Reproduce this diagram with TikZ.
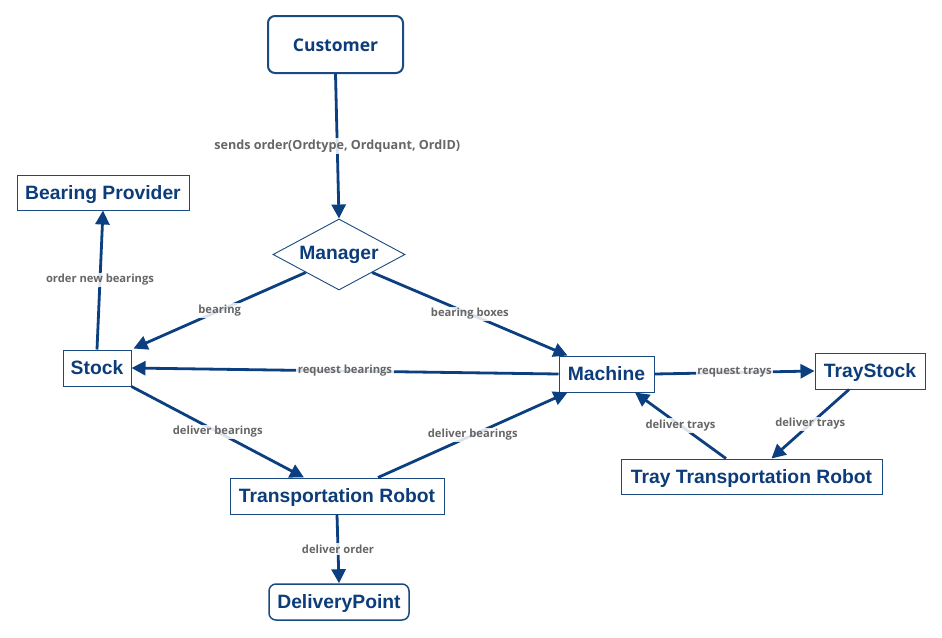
\documentclass[tikz,border=0pt]{standalone}
\usepackage{fontspec}
\setmainfont{Liberation Sans}
\newfontfamily\lblfont{Open Sans}
\usetikzlibrary{shapes.geometric,arrows.meta}
\definecolor{nodeblue}{HTML}{0D3C7A}
\definecolor{edgeblue}{HTML}{0B3F80}
\definecolor{bordblue}{HTML}{1A4A80}
\definecolor{lblgray}{HTML}{666666}
\begin{document}
\begin{tikzpicture}[x=1pt,y=-1pt,
  box/.style={draw=bordblue,line width=1pt,fill=white,inner sep=0pt,text=nodeblue,font=\fontsize{19.3}{22}\selectfont\bfseries,anchor=center,text height=14.5pt,text depth=1pt},
  rbox/.style={box,rounded corners=7pt},
  flow/.style={draw=edgeblue,line width=2.8pt,-{Triangle[length=14pt,width=14pt]}},
  lbl/.style={fill=white,fill opacity=0.85,text opacity=1,text=lblgray,font=\lblfont\fontsize{11.2}{13}\selectfont\bfseries,inner sep=1.5pt}
]
\useasboundingbox[fill=white] (0,0) rectangle (942,637);

\node[rbox,line width=2pt,minimum width=135pt,minimum height=57pt,font=\lblfont\fontsize{17.5}{20}\selectfont\bfseries,text height=14pt,text depth=0pt] (cust) at (335.5,44.5) {Customer};
\node[draw=bordblue,line width=0.9pt,fill=white,diamond,aspect=1.85,inner sep=0pt,minimum width=132pt,minimum height=71pt] (man) at (339,254.5) {};
\node[text=nodeblue,font=\fontsize{19.3}{22}\selectfont\bfseries,text height=14.5pt,text depth=1pt,inner sep=0pt] at (339,253) {Manager};
\node[box,minimum width=172pt,minimum height=35pt] (bp) at (103,192.5) {Bearing Provider};
\node[box,minimum width=68pt,minimum height=36pt] (stock) at (97,368) {Stock};
\node[box,minimum width=95pt,minimum height=36pt] (mach) at (606.5,374) {Machine};
\node[box,minimum width=110pt,minimum height=36pt] (ts) at (870,371) {TrayStock};
\node[box,minimum width=261pt,minimum height=35pt] (ttr) at (751.5,476.5) {Tray Transportation Robot};
\node[box,minimum width=214pt,minimum height=36pt] (tr) at (337,496) {Transportation Robot};
\node[rbox,line width=1.5pt,minimum width=140pt,minimum height=36pt] (dp) at (339,602) {DeliveryPoint};

\draw[flow] (cust.south) -- node[lbl,font=\lblfont\fontsize{12.6}{15}\selectfont\bfseries]{sends order(Ordtype, Ordquant, OrdID)} (man.north);
\draw[flow] (man.south west) -- node[lbl]{bearing} ([xshift=2pt,yshift=1pt]stock.north east);
\draw[flow] (man.south east) -- node[lbl]{bearing boxes} ([xshift=9pt]mach.north west);
\draw[flow] (mach.west) -- node[lbl]{request bearings} (stock.east);
\draw[flow] (stock.north) -- node[lbl]{order new bearings} (bp.south);
\draw[flow] (stock.south east) -- node[lbl]{deliver bearings} ([xshift=-33pt]tr.north);
\draw[flow] ([xshift=41pt]tr.north) -- node[lbl]{deliver bearings} ([xshift=9pt]mach.south west);
\draw[flow] (tr.south) -- node[lbl]{deliver order} (dp.north);
\draw[flow] (mach.east) -- node[lbl]{request trays} (ts.west);
\draw[flow] ([xshift=-21pt]ts.south) -- node[lbl]{deliver trays} ([xshift=20pt]ttr.north);
\draw[flow] ([xshift=-25.5pt]ttr.north) -- node[lbl]{deliver trays} ([xshift=28.5pt]mach.south);
\end{tikzpicture}
\end{document}
